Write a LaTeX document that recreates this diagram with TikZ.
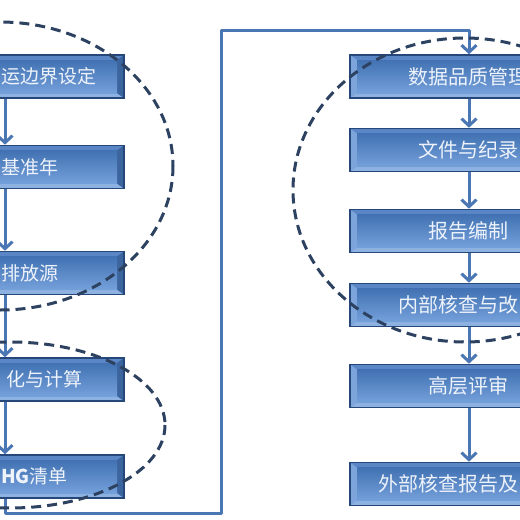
\documentclass[tikz,border=0pt]{standalone}
\usepackage{fontspec}
\newfontfamily\cjk{Noto Sans CJK SC}
\usetikzlibrary{arrows.meta}
\definecolor{bxborder}{HTML}{25477A}
\definecolor{bxbase}{HTML}{4A78B8}
\definecolor{bvtop}{HTML}{5A86C6}
\definecolor{bvleft}{HTML}{7DA5DC}
\definecolor{bvbottom}{HTML}{8DB2E2}
\definecolor{bvright}{HTML}{3C659F}
\definecolor{facetop}{HTML}{4272B3}
\definecolor{facebot}{HTML}{74A0DA}
\definecolor{linkc}{HTML}{4A76B4}
\definecolor{dashc}{HTML}{2D4261}
\definecolor{txtc}{HTML}{EEF3FB}
\tikzset{
  bevelbox/.style={draw=bxborder, line width=1.6pt, fill=bxbase,
    minimum width=238pt, minimum height=43pt, inner sep=0pt,
    path picture={
      \coordinate (NW) at (path picture bounding box.north west);
      \coordinate (NE) at (path picture bounding box.north east);
      \coordinate (SW) at (path picture bounding box.south west);
      \coordinate (SE) at (path picture bounding box.south east);
      \fill[bvtop] (NW) -- (NE) -- ([xshift=-7pt,yshift=-5pt]NE) -- ([xshift=7pt,yshift=-5pt]NW) -- cycle;
      \fill[bvleft] (NW) -- ([xshift=7pt,yshift=-5pt]NW) -- ([xshift=7pt,yshift=5pt]SW) -- (SW) -- cycle;
      \fill[bvbottom] (SW) -- ([xshift=7pt,yshift=5pt]SW) -- ([xshift=-7pt,yshift=5pt]SE) -- (SE) -- cycle;
      \fill[bvright] (NE) -- (SE) -- ([xshift=-7pt,yshift=5pt]SE) -- ([xshift=-7pt,yshift=-5pt]NE) -- cycle;
      \shade[top color=facetop, bottom color=facebot] ([xshift=7pt,yshift=-5pt]NW) rectangle ([xshift=-7pt,yshift=5pt]SE);
    }},
  boxtext/.style={font=\cjk\fontsize{20}{22}\selectfont, text=txtc, inner sep=0pt},
  lefttext/.style={font=\cjk\fontsize{19}{21}\selectfont, text=txtc, inner sep=0pt, anchor=west},
  link/.style={draw=linkc, line width=3pt},
  linkarrow/.style={link, -{Straight Barb[length=7pt,width=15pt,line width=3pt]}},
  groupring/.style={draw=dashc, line width=3pt, dash pattern=on 10pt off 6pt}
}
\begin{document}
\begin{tikzpicture}[x=1pt,y=-1pt]
\useasboundingbox (0,0) rectangle (520,520);
\clip (0,0) rectangle (520,520);
\fill[white] (0,0) rectangle (520,520);
% left column
\node[bevelbox] (b1) at (5,76.5) {};
\node[bevelbox] (b2) at (5,167) {};
\node[bevelbox] (b3) at (5,273) {};
\node[bevelbox] (b4) at (5,379.5) {};
\node[bevelbox] (b5) at (5,476.5) {};
\node[lefttext] (t1) at (1,76.5) {运边界设定};
\node[lefttext] (t2) at (1,167) {基准年};
\node[lefttext] (t3) at (1,273) {排放源};
\node[lefttext] (t4) at (6,379.5) {化与计算};
\node[lefttext] (t5) at (1,476.5) {\textbf{HG}清单};
% right column
\node[bevelbox] (r1) at (469,76.5) {};
\node[bevelbox] (r2) at (469,150) {};
\node[bevelbox] (r3) at (469,231) {};
\node[bevelbox] (r4) at (469,305) {};
\node[bevelbox] (r5) at (469,386) {};
\node[bevelbox] (r6) at (469,484) {};
\node[boxtext, anchor=west] (u1) at (408,76.5) {数据品质管理};
\node[boxtext, anchor=west] (u2) at (418,150) {文件与纪录};
\node[boxtext] (u3) at (468,231) {报告编制};
\node[boxtext, anchor=west] (u4) at (398,305) {内部核查与改};
\node[boxtext] (u5) at (468,386) {高层评审};
\node[boxtext, anchor=west] (u6) at (378,484) {外部核查报告及};
% connectors
\draw[linkarrow] (b1.south) -- (b2.north);
\draw[linkarrow] (b2.south) -- (b3.north);
\draw[linkarrow] (b3.south) -- (b4.north);
\draw[linkarrow] (b4.south) -- (b5.north);
\coordinate (c1) at (5,513);
\coordinate (c2) at (221,513);
\coordinate (c3) at (221,30);
\coordinate (c4) at (469,30);
\draw[linkarrow, line join=round] (b5.south) -- (c1) -- (c2) -- (c3) -- (c4) -- (r1.north);
\draw[linkarrow] (r1.south) -- (r2.north);
\draw[linkarrow] (r2.south) -- (r3.north);
\draw[linkarrow] (r3.south) -- (r4.north);
\draw[linkarrow] (r4.south) -- (r5.north);
\draw[linkarrow] (r5.south) -- (r6.north);
% dashed groupings
\draw[groupring] (0,166) ellipse [x radius=173, y radius=144];
\draw[groupring] (10,425) ellipse [x radius=155, y radius=83];
\draw[groupring] (465,190) ellipse [x radius=172, y radius=152];
\end{tikzpicture}
\end{document}
